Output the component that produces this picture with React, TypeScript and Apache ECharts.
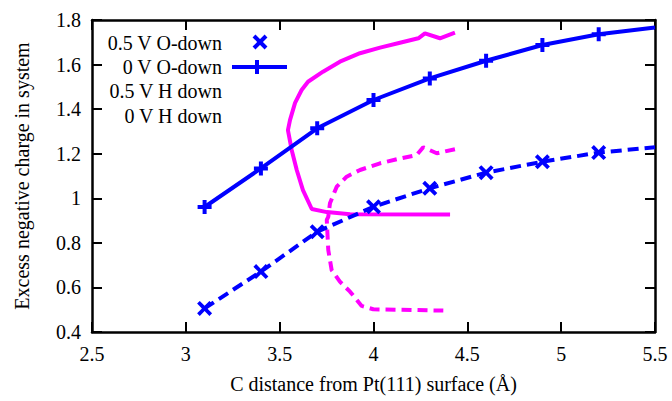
import React, { useEffect, useRef } from "react";
import * as echarts from "echarts";

const oDownX = [3.1, 3.4, 3.7, 4.0, 4.3, 4.6, 4.9, 5.2, 5.5];
const oDown0V = [0.961, 1.134, 1.314, 1.441, 1.538, 1.617, 1.688, 1.736, 1.766];
const oDown05V = [0.506, 0.671, 0.85, 0.962, 1.045, 1.115, 1.164, 1.205, 1.229];

const hDown0Vx = [4.434, 4.354, 4.274, 4.239, 4.141, 4.035, 3.928, 3.821, 3.731, 3.651, 3.617, 3.582, 3.555, 3.544, 3.564, 3.591, 3.624, 3.671, 3.751, 3.875, 4.408];
const hDown0Vy = [1.743, 1.718, 1.74, 1.718, 1.698, 1.676, 1.651, 1.613, 1.568, 1.523, 1.486, 1.428, 1.351, 1.306, 1.217, 1.127, 1.037, 0.952, 0.938, 0.928, 0.927];

const hDown05Vx = [4.434, 4.337, 4.265, 4.23, 4.124, 4.035, 3.928, 3.857, 3.804, 3.768, 3.759, 3.751, 3.759, 3.777, 3.821, 3.875, 3.937, 3.999, 4.372];
const hDown05Vy = [1.22, 1.202, 1.229, 1.194, 1.175, 1.157, 1.127, 1.097, 1.052, 0.978, 0.917, 0.903, 0.768, 0.678, 0.626, 0.581, 0.517, 0.502, 0.496];

const legendLabels = ["0.5 V O-down", "0 V O-down", "0.5 V H down", "0 V H down"];

const FONT = "'Liberation Serif', 'Times New Roman', serif";
const BLUE = "#0000ff";
const MAGENTA = "#ff00ff";

const PLUS = "path://M0,5 L5,5 L5,0 L9,0 L9,5 L14,5 L14,9 L9,9 L9,14 L5,14 L5,9 L0,9 Z";
const CROSS = "path://M0,2.5 L2.5,0 L7,4.5 L11.5,0 L14,2.5 L9.5,7 L14,11.5 L11.5,14 L7,9.5 L2.5,14 L0,11.5 L4.5,7 Z";

function markerData(xs: number[], ys: number[]) {
  return xs.map((x, i) =>
    i === xs.length - 1 ? { value: [x, ys[i]], symbol: "none" } : { value: [x, ys[i]] }
  );
}

export default function App() {
  const ref = useRef<HTMLDivElement>(null);
  useEffect(() => {
    if (!ref.current) return;
    const chart = echarts.init(ref.current, null, { renderer: "svg" });
    const axisCommon = {
      type: "value" as const,
      splitLine: { show: false },
      axisLine: { show: true, onZero: false, lineStyle: { color: "#000", width: 2.5 } },
      axisTick: { show: true, inside: true, length: 10, lineStyle: { color: "#000", width: 2 } },
    };
    const labelStyle = { color: "#000", fontFamily: FONT, fontSize: 20 };
    chart.setOption({
      animation: false,
      grid: { left: 92, right: 17, top: 20, bottom: 69, containLabel: false },
      xAxis: [
        {
          ...axisCommon,
          position: "bottom",
          min: 2.5,
          max: 5.5,
          interval: 0.5,
          axisLabel: { ...labelStyle, margin: 12 },
          name: "C distance from Pt(111) surface (Å)",
          nameLocation: "middle",
          nameGap: 42,
          nameTextStyle: { ...labelStyle },
        },
        {
          ...axisCommon,
          position: "top",
          min: 2.5,
          max: 5.5,
          interval: 0.5,
          axisLabel: { show: false },
        },
      ],
      yAxis: [
        {
          ...axisCommon,
          position: "left",
          min: 0.4,
          max: 1.8,
          interval: 0.2,
          axisLabel: { ...labelStyle, margin: 11 },
          name: "Excess negative charge in system",
          nameLocation: "middle",
          nameGap: 60,
          nameTextStyle: { ...labelStyle },
        },
        {
          ...axisCommon,
          position: "right",
          min: 0.4,
          max: 1.8,
          interval: 0.2,
          axisLabel: { show: false },
        },
      ],
      series: [
        {
          name: legendLabels[0],
          type: "line",
          data: markerData(oDownX, oDown05V),
          symbol: CROSS,
          symbolSize: 15,
          showAllSymbol: true,
          itemStyle: { color: BLUE },
          lineStyle: { color: BLUE, width: 4, type: [11, 6] },
          z: 3,
        },
        {
          name: legendLabels[1],
          type: "line",
          data: markerData(oDownX, oDown0V),
          symbol: PLUS,
          symbolSize: 14,
          showAllSymbol: true,
          itemStyle: { color: BLUE },
          lineStyle: { color: BLUE, width: 4 },
          z: 3,
        },
        {
          name: legendLabels[2],
          type: "line",
          data: hDown05Vx.map((x, i) => [x, hDown05Vy[i]]),
          symbol: "none",
          lineStyle: { color: MAGENTA, width: 4, type: [10, 6] },
          z: 2,
        },
        {
          name: legendLabels[3],
          type: "line",
          data: hDown0Vx.map((x, i) => [x, hDown0Vy[i]]),
          symbol: "none",
          lineStyle: { color: MAGENTA, width: 4 },
          z: 2,
        },
      ],
      graphic: [
        ...legendLabels.map((t, i) => ({
          type: "text",
          style: {
            text: t,
            x: 222,
            y: 43 + i * 24.2,
            align: "right",
            textAlign: "right",
            verticalAlign: "middle",
            textVerticalAlign: "middle",
            fontFamily: FONT,
            fontSize: 20,
            fill: "#000",
          },
          z: 10,
        })),
        { type: "line", shape: { x1: 254, y1: 36, x2: 266, y2: 48 }, style: { stroke: BLUE, lineWidth: 4 }, z: 10 },
        { type: "line", shape: { x1: 254, y1: 48, x2: 266, y2: 36 }, style: { stroke: BLUE, lineWidth: 4 }, z: 10 },
        { type: "line", shape: { x1: 232, y1: 67, x2: 287, y2: 67 }, style: { stroke: BLUE, lineWidth: 4 }, z: 10 },
        { type: "line", shape: { x1: 257, y1: 60, x2: 257, y2: 74 }, style: { stroke: BLUE, lineWidth: 4 }, z: 10 },
      ],
    });
    return () => chart.dispose();
  }, []);
  return (
    <div
      ref={ref}
      style={{ position: "fixed", left: 0, top: 0, width: 672, height: 401, background: "#fff" }}
    />
  );
}
